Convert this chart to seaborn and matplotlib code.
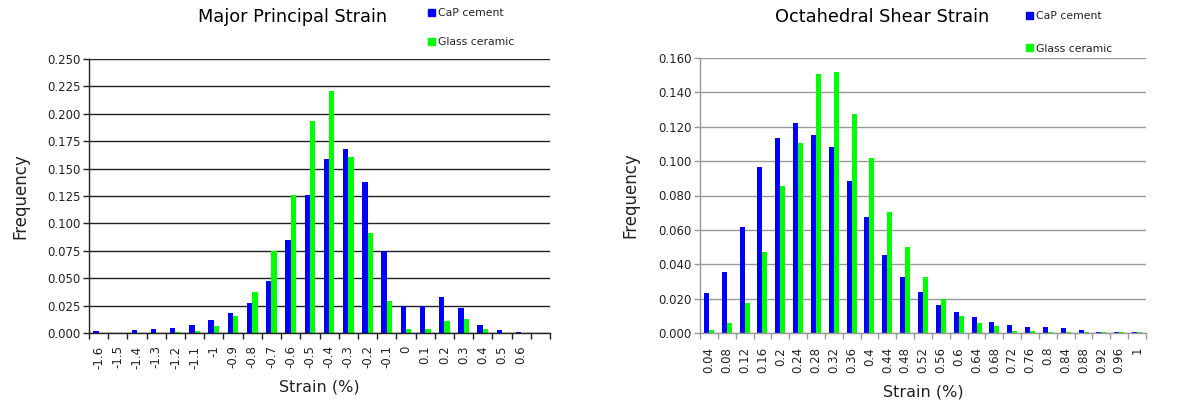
import pandas as pd
import matplotlib
matplotlib.use("Agg")
import matplotlib.pyplot as plt
import seaborn as sns
from matplotlib.patches import Patch

sns.set_theme(style="white")
plt.rcParams['font.family'] = ['DejaVu Sans']

# --- dados ---
major_bins = ['-1.6', '-1.5', '-1.4', '-1.3', '-1.2', '-1.1', '-1', '-0.9', '-0.8', '-0.7',
              '-0.6', '-0.5', '-0.4', '-0.3', '-0.2', '-0.1', '0', '0.1', '0.2', '0.3',
              '0.4', '0.5', '0.6']
major_cap = [0.0015, 0.0, 0.0024, 0.0036, 0.0046, 0.0076, 0.0116, 0.0185, 0.0274, 0.0478,
             0.0849, 0.126, 0.159, 0.168, 0.138, 0.0745, 0.025, 0.025, 0.033, 0.0225,
             0.0076, 0.0024, 0.0012]
major_glass = [0.0, 0.0, 0.0, 0.0, 0.0012, 0.002, 0.0067, 0.0158, 0.0377, 0.0748,
               0.126, 0.193, 0.221, 0.161, 0.091, 0.0295, 0.0036, 0.0036, 0.0106, 0.0125,
               0.0036, 0.0, 0.0]

oct_bins = ['0.04', '0.08', '0.12', '0.16', '0.2', '0.24', '0.28', '0.32', '0.36', '0.4',
            '0.44', '0.48', '0.52', '0.56', '0.6', '0.64', '0.68', '0.72', '0.76', '0.8',
            '0.84', '0.88', '0.92', '0.96', '1']
oct_cap = [0.0233, 0.0355, 0.0617, 0.0966, 0.1133, 0.1222, 0.1152, 0.1082, 0.0883, 0.0677,
           0.0452, 0.0324, 0.0239, 0.0163, 0.0124, 0.0093, 0.0066, 0.0047, 0.0035, 0.0035,
           0.0029, 0.0016, 0.0008, 0.0008, 0.0008]
oct_glass = [0.0019, 0.0058, 0.0175, 0.0471, 0.0857, 0.1106, 0.1507, 0.1519, 0.1274, 0.1018,
             0.0702, 0.0502, 0.0324, 0.0196, 0.0099, 0.0058, 0.0041, 0.0014, 0.0014, 0.0008,
             0.0008, 0.0008, 0.0008, 0.0008, 0.0008]

materiais = ['CaP cement', 'Glass ceramic']
cores = {'CaP cement': '#0000FF', 'Glass ceramic': '#00FF00'}


def long_df(bins, cap, glass):
    return pd.DataFrame({
        'bin': bins * 2,
        'freq': cap + glass,
        'material': ['CaP cement'] * len(bins) + ['Glass ceramic'] * len(bins),
    })


def desenha(ax, bins, cap, glass, nslots, ymax, ystep, titulo, cor_grade, tx, legx, legy,
            esp, xpad):
    df = long_df(bins, cap, glass)
    sns.barplot(data=df, x='bin', y='freq', hue='material', order=bins, hue_order=materiais,
                palette=cores, width=0.56, gap=0, saturation=1, linewidth=0, ax=ax, legend=False)
    ax.set_xlim(-0.5, nslots - 0.5)
    ax.set_ylim(0, ymax)
    yt = [i * ystep for i in range(int(round(ymax / ystep)) + 1)]
    ax.set_yticks(yt)
    ax.set_yticklabels([f'{v:.3f}' for v in yt], fontsize=8.5, color='#222222')
    ax.yaxis.grid(True, color=cor_grade, linewidth=1)
    ax.set_axisbelow(True)
    ax.set_xticks(range(len(bins)))
    ax.set_xticklabels(bins, rotation=90, fontsize=8.5, color='#222222')
    ax.set_xticks([i - 0.5 for i in range(nslots + 1)], minor=True)
    ax.tick_params(axis='x', which='major', length=0, pad=xpad)
    ax.tick_params(axis='x', which='minor', length=4, width=1, color=cor_grade, bottom=True)
    ax.tick_params(axis='y', length=4, width=1, color=cor_grade, left=True, pad=2)
    for s in ['top', 'right']:
        ax.spines[s].set_visible(False)
    for s in ['left', 'bottom']:
        ax.spines[s].set_color(cor_grade)
        ax.spines[s].set_linewidth(1)
    ax.set_xlabel('Strain (%)', fontsize=11.5, color='#222222', labelpad=8)
    ax.set_ylabel('Frequency', fontsize=12, color='#222222')
    fig.text(tx, 1 - 17 / 405, titulo, ha='center', va='center', fontsize=12.8, color='black')
    handles = [Patch(color=cores[m], label=m) for m in materiais]
    fig.legend(handles=handles, loc='upper left', bbox_to_anchor=(legx, legy), frameon=False,
               fontsize=7.8, handlelength=0.6, handleheight=0.6, handletextpad=0.3,
               labelspacing=esp, borderaxespad=0, borderpad=0, labelcolor='#222222')


fig = plt.figure(figsize=(12.03, 4.05), dpi=100)
ax1 = fig.add_axes([89 / 1203, 1 - 333 / 405, 461 / 1203, 274 / 405])
ax2 = fig.add_axes([700 / 1203, 1 - 333 / 405, 446 / 1203, 275 / 405])

desenha(ax1, major_bins, major_cap, major_glass, 24, 0.25, 0.025, 'Major Principal Strain',
        '#222222', 293 / 1203, 428 / 1203, 1 - 8 / 405, 1.75, 9)
desenha(ax2, oct_bins, oct_cap, oct_glass, 25, 0.16, 0.02, 'Octahedral Shear Strain',
        '#999999', 882 / 1203, 1026 / 1203, 1 - 11 / 405, 2.1, 10)

ax1.yaxis.set_label_coords(-0.13, 0.5)
ax2.yaxis.set_label_coords(-0.135, 0.5)

fig.savefig('out.png', dpi=100)
